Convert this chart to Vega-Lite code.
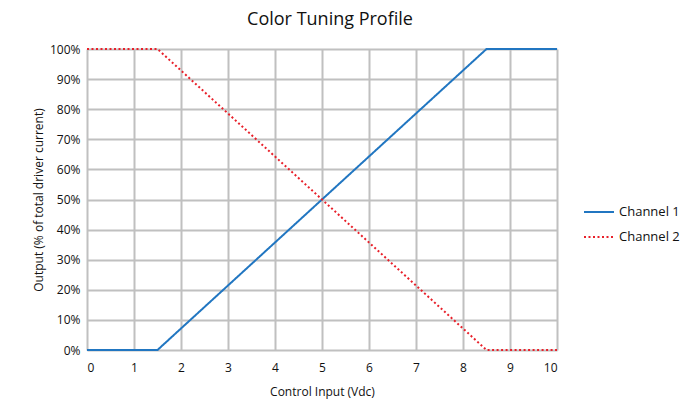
{
  "$schema": "https://vega.github.io/schema/vega-lite/v6.json",
  "width": 470,
  "height": 301,
  "autosize": {"type": "none"},
  "padding": {"left": 87, "top": 49, "right": 137, "bottom": 54},
  "background": "white",
  "title": {
    "text": "Color Tuning Profile",
    "font": "Open Sans",
    "fontSize": 18,
    "fontWeight": "normal",
    "color": "#111111",
    "anchor": "middle",
    "dx": 8,
    "offset": 14
  },
  "data": {
    "values": [
      {"input": 0, "output": 0, "channel": "Channel 1"},
      {"input": 1.5, "output": 0, "channel": "Channel 1"},
      {"input": 8.5, "output": 100, "channel": "Channel 1"},
      {"input": 10, "output": 100, "channel": "Channel 1"},
      {"input": 0, "output": 100, "channel": "Channel 2"},
      {"input": 1.5, "output": 100, "channel": "Channel 2"},
      {"input": 8.5, "output": 0, "channel": "Channel 2"},
      {"input": 10, "output": 0, "channel": "Channel 2"}
    ]
  },
  "mark": {"type": "line", "strokeWidth": 2},
  "encoding": {
    "x": {
      "field": "input",
      "type": "quantitative",
      "scale": {"domain": [0, 10], "nice": false},
      "axis": {
        "title": "Control Input (Vdc)",
        "values": [0,1,2,3,4,5,6,7,8,9,10]
      }
    },
    "y": {
      "field": "output",
      "type": "quantitative",
      "scale": {"domain": [0, 100], "nice": false},
      "axis": {
        "title": "Output (% of total driver current)",
        "values": [0,10,20,30,40,50,60,70,80,90,100],
        "labelExpr": "datum.value + '%'"
      }
    },
    "color": {
      "field": "channel",
      "type": "nominal",
      "scale": {"domain": ["Channel 1", "Channel 2"], "range": ["#2176c1", "#e8202a"]},
      "legend": {
        "title": null,
        "orient": "none",
        "legendX": 496,
        "legendY": 147,
        "symbolType": "stroke",
        "symbolSize": 900,
        "symbolStrokeWidth": 2,
        "labelFont": "Open Sans",
        "labelFontSize": 13,
        "labelColor": "#111111",
        "rowPadding": 2
      }
    },
    "strokeDash": {
      "field": "channel",
      "type": "nominal",
      "scale": {"domain": ["Channel 1", "Channel 2"], "range": [[1, 0], [2, 2.5]]},
      "legend": null
    }
  },
  "config": {
    "view": {"stroke": null},
    "axis": {
      "grid": true,
      "gridColor": "#c0c0c0",
      "gridWidth": 2,
      "gridOpacity": 1,
      "domain": false,
      "ticks": false,
      "labelFont": "Open Sans",
      "labelFontSize": 12,
      "labelColor": "#111111",
      "titleFont": "Open Sans",
      "titleFontSize": 12,
      "titleFontWeight": "normal",
      "titleColor": "#111111"
    },
    "axisX": {"labelPadding": 12, "titlePadding": 13},
    "axisY": {"labelPadding": 7, "titlePadding": 4}
  }
}
